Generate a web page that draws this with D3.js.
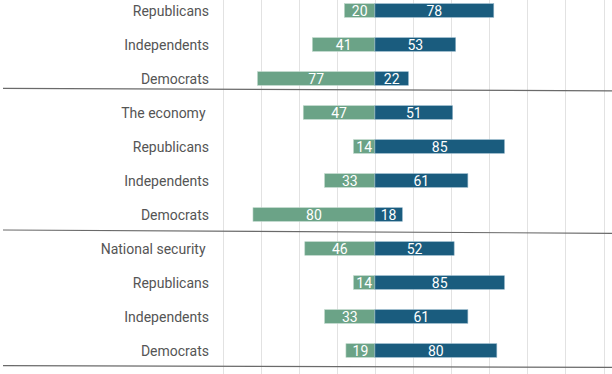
<!DOCTYPE html>
<html>
<head>
<meta charset="utf-8">
<script src="https://cdn.jsdelivr.net/npm/d3@7"></script>
<style>
  html, body { margin: 0; padding: 0; background: #fff; }
  svg { display: block; font-family: Roboto, "Noto Sans", sans-serif; }
</style>
</head>
<body>
<div id="chart"></div>
<script>
// Row labels, top to bottom (the first group's heading is cut off above the frame)
const labels = [
    "Republicans", "Independents", "Democrats",
    "The economy ", "Republicans", "Independents", "Democrats",
    "National security ", "Republicans", "Independents", "Democrats"
];
// Share on the left (green) and right (blue) side of zero
const leftValues  = [20, 41, 77, 47, 14, 33, 80, 46, 14, 33, 19];
const rightValues = [78, 53, 22, 51, 85, 61, 18, 52, 85, 61, 80];
// Gridline ticks
const gridTicks = [-100, -75, -50, -25, 0, 25, 50, 75, 100, 125, 150];
// Group separators come after these rows
const separatorAfter = [2, 6, 10];

const width = 612;
const height = 374;

const svg = d3.select("#chart")
    .append("svg")
    .attr("width", width)
    .attr("height", height);

// Horizontal scale: -100..150 spread over the plot area
const x = d3.scaleLinear()
    .domain([-100, 150])
    .range([222.5, 603.5]);

// Row bands
const y = d3.scaleBand()
    .domain(d3.range(labels.length))
    .range([-6.5, 367.5])
    .paddingInner(0.6)
    .paddingOuter(0.3);

// Vertical gridlines
svg.append("g")
    .selectAll("line")
    .data(gridTicks)
    .enter()
    .append("line")
    .attr("x1", d => Math.round(x(d)) + 0.5)
    .attr("x2", d => Math.round(x(d)) + 0.5)
    .attr("y1", 0)
    .attr("y2", height)
    .attr("stroke", "#e2e2e2")
    .attr("stroke-width", 1);

const rows = svg.append("g")
    .selectAll("g")
    .data(labels.map((label, i) => ({ label, i, left: leftValues[i], right: rightValues[i] })))
    .enter()
    .append("g");

// Left (green) bars
rows.append("rect")
    .attr("x", d => x(-d.left))
    .attr("y", d => y(d.i))
    .attr("width", d => x(0) - x(-d.left))
    .attr("height", y.bandwidth())
    .attr("fill", "#6ba387")
    .attr("stroke", "#b9d4c6")
    .attr("stroke-width", 0.6);

// Right (blue) bars
rows.append("rect")
    .attr("x", x(0))
    .attr("y", d => y(d.i))
    .attr("width", d => x(d.right) - x(0))
    .attr("height", y.bandwidth())
    .attr("fill", "#1a5c7e")
    .attr("stroke", "#8fb2c6")
    .attr("stroke-width", 0.6);

// Values inside the bars
rows.append("text")
    .attr("x", d => (x(-d.left) + x(0)) / 2)
    .attr("y", d => y(d.i) + y.bandwidth() / 2)
    .attr("dy", "0.36em")
    .attr("text-anchor", "middle")
    .attr("fill", "#fff")
    .style("font-size", "14px")
    .text(d => d.left);

rows.append("text")
    .attr("x", d => (x(d.right) + x(0)) / 2)
    .attr("y", d => y(d.i) + y.bandwidth() / 2)
    .attr("dy", "0.36em")
    .attr("text-anchor", "middle")
    .attr("fill", "#fff")
    .style("font-size", "14px")
    .text(d => d.right);

// Row labels
rows.append("text")
    .attr("x", 209)
    .attr("y", d => y(d.i) + y.bandwidth() / 2)
    .attr("dy", "0.36em")
    .attr("text-anchor", "end")
    .attr("fill", "#555")
    .style("font-size", "14px")
    .style("white-space", "pre")
    .attr("xml:space", "preserve")
    .text(d => d.label);

// Group separators (slightly tilted, as in the source)
const sepOffsets = { 2: [3, 5.5], 6: [8.7, 12], 10: [8.4, 10] };
svg.append("g")
    .selectAll("line")
    .data(separatorAfter)
    .enter()
    .append("line")
    .attr("x1", 3)
    .attr("x2", width)
    .attr("y1", d => y(d) + y.bandwidth() + sepOffsets[d][0])
    .attr("y2", d => y(d) + y.bandwidth() + sepOffsets[d][1])
    .attr("stroke", "#6a6a6a")
    .attr("stroke-width", 1.2);
</script>
</body>
</html>
